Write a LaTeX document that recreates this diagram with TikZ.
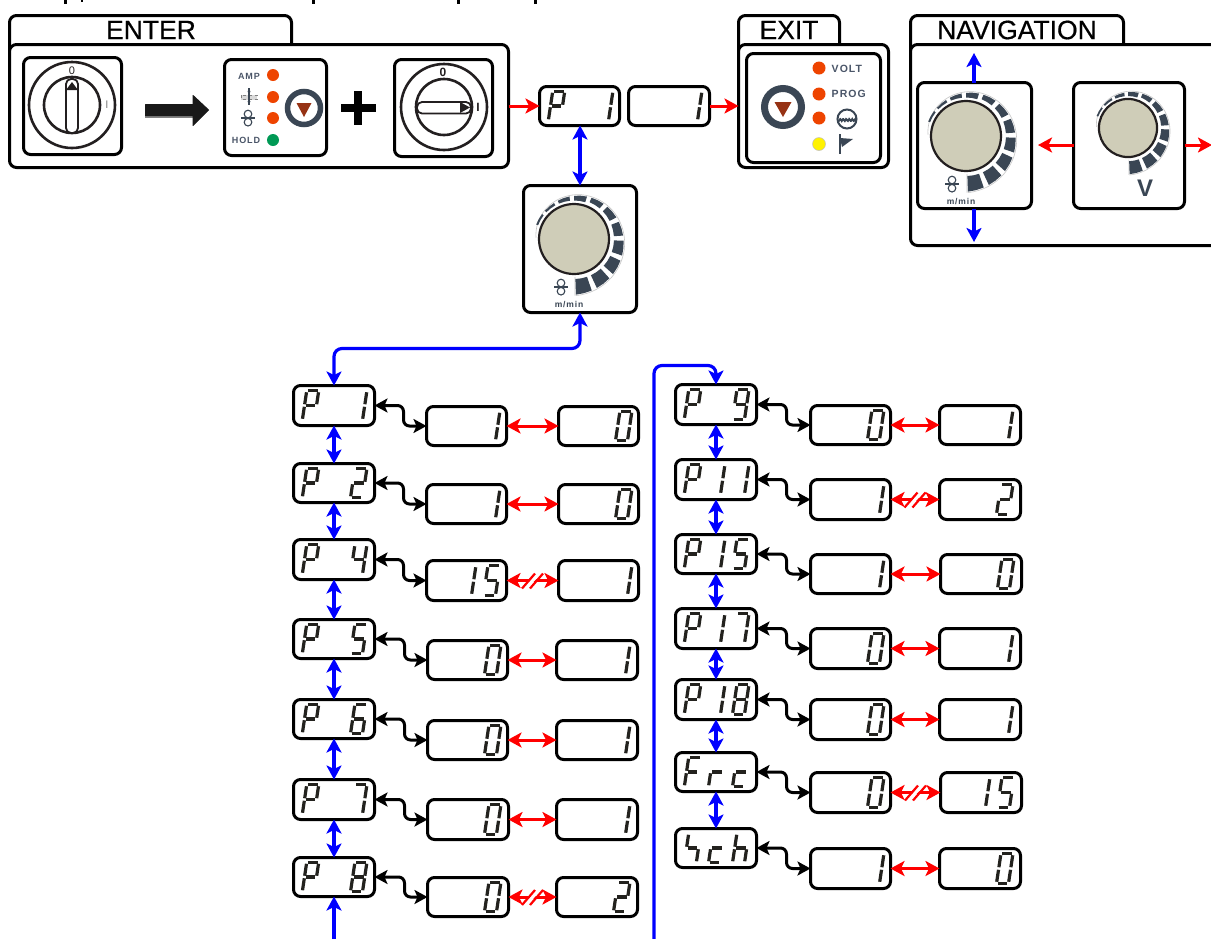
\documentclass[tikz,border=0pt]{standalone}
\usepackage{fontspec}
\setmainfont{Liberation Sans}
\newfontfamily\lblfont[LetterSpace=10]{Liberation Sans}
\newfontfamily\tabfont[RawFeature={embolden=0.6}]{Liberation Sans}
\usetikzlibrary{arrows.meta,calc}
\definecolor{slate}{HTML}{3A4654}
\definecolor{labelc}{HTML}{4A5568}
\definecolor{ledred}{HTML}{EE4400}
\definecolor{ledgreen}{HTML}{009955}
\definecolor{triang}{HTML}{963214}
\definecolor{knobc}{HTML}{CFCDB8}
\definecolor{inkc}{HTML}{231F20}
\definecolor{segc}{HTML}{23221E}
\tikzset{
  box/.style={draw=black,line width=3pt,fill=white,rounded corners=7pt,inner sep=0pt,outer sep=0pt,rectangle},
  segline/.style={draw=segc,line width=3.2pt,line cap=butt},
  blu/.style={draw=blue,line width=3.2pt,<->,>={Stealth[length=14pt,width=15pt,inset=3.5pt]}},
  bluone/.style={draw=blue,line width=3.2pt,->,>={Stealth[length=14pt,width=15pt,inset=3.5pt]}},
  rdd/.style={draw=red,line width=3pt,<->,>={Stealth[length=14pt,width=15pt,inset=3.5pt]}},
  rdone/.style={draw=red,line width=3pt,->,>={Stealth[length=14pt,width=15pt,inset=3.5pt]}},
  blk/.style={draw=black,line width=3pt,<->,rounded corners=6pt,>={Stealth[length=13pt,width=14pt,inset=3pt]}},
  led/.style={circle,inner sep=0pt,outer sep=0pt,minimum size=#1},
  swline/.style={draw=inkc,line width=2.6pt},
  symb/.style={draw=slate,line width=1.1pt},
  tabtext/.style={font=\tabfont\fontsize{26.5}{26.5}\selectfont,inner sep=0pt,text=black},
  lab/.style={font=\lblfont\bfseries\fontsize{9}{9}\selectfont,text=labelc,inner sep=0pt},
  labb/.style={font=\lblfont\bfseries\fontsize{10.5}{10.5}\selectfont,text=labelc,inner sep=0pt,anchor=west},
  mmin/.style={font=\lblfont\bfseries\fontsize{8.5}{8.5}\selectfont,text=slate,inner sep=0pt},
}
% seven segment glyphs
\def\sega{\draw[segline] (1.2,-29.5)--(10.8,-29.5);}
\def\segb{\draw[segline] (12,-28)--(12,-16);}
\def\segc{\draw[segline] (12,-13.5)--(12,-1.5);}
\def\segd{\draw[segline] (1.2,0)--(10.8,0);}
\def\sege{\draw[segline] (0,-13.5)--(0,-1.5);}
\def\segf{\draw[segline] (0,-28)--(0,-16);}
\def\segg{\draw[segline] (1.2,-14.75)--(10.8,-14.75);}
\def\segz{}
\def\glx{z}
\def\glP{a,b,e,f,g}
\def\glF{a,e,f,g}
\def\glr{e,g}
\def\glc{d,e,g}
\def\glh{c,e,f,g}
\def\glu{c,f,g}
\def\glzero{a,b,c,d,e,f}
\def\glone{b,c}
\def\gltwo{a,b,d,e,g}
\def\glfour{b,c,f,g}
\def\glfive{a,c,d,f,g}
\def\glsix{a,c,d,e,f,g}
\def\glseven{a,b,c}
\def\gleight{a,b,c,d,e,f,g}
\def\glnine{a,b,c,d,f,g}
\newcommand{\dig}[3]{% x, bottom y, glyph
  \begin{scope}[shift={(#1,#2)},xslant=0.15]
    \expandafter\let\expandafter\gllist\csname gl#3\endcsname
    \foreach \s in \gllist {\csname seg\s\endcsname}
  \end{scope}}
\newcommand{\bx}[6][box]{% style, name, x1,y1,x2,y2
  \pgfmathsetmacro{\bcx}{(#3+#5)/2}\pgfmathsetmacro{\bcy}{(#4+#6)/2}
  \pgfmathsetmacro{\bw}{#5-#3-3}\pgfmathsetmacro{\bh}{#6-#4-3}
  \node[#1,minimum width=\bw pt,minimum height=\bh pt] (#2) at (\bcx,\bcy) {};}
\newcommand{\disp}[8]{% name x1 y1 x2 y2 g1 g2 g3
  \bx{#1}{#2}{#3}{#4}{#5}
  \pgfmathsetmacro{\dby}{(#3+#5)/2+14.75}
  \pgfmathsetmacro{\dxa}{#2+10.3}\pgfmathsetmacro{\dxb}{#2+34.5}\pgfmathsetmacro{\dxc}{#2+58.5}
  \dig{\dxa}{\dby}{#6}\dig{\dxb}{\dby}{#7}\dig{\dxc}{\dby}{#8}}
\newcommand{\dial}[3]{% cx cy scale
  \pgfmathsetmacro{\kr}{35*#3}
  \draw[gray!45,line width=.6pt] ({#1+#3*1},{#2+#3*56.5}) -- ({#1+#3*1},{#2+#3*38})
    plot[domain=88:-178,samples=50] ({#1+#3*(50.5+.07*\x)*cos(\x)},{#2+#3*(50.5+.07*\x)*sin(\x)});
  \foreach \i in {0,...,10}{
    \pgfmathsetmacro{\aone}{88-\i*23}
    \pgfmathsetmacro{\atwo}{\aone-17}
    \pgfmathsetmacro{\amid}{\aone-8.5}
    \pgfmathsetmacro{\rin}{\aone>-60 ? 40 : 38.5}
    \pgfmathsetmacro{\ra}{max(49.5+.07*\aone,40.5)}
    \pgfmathsetmacro{\rb}{max(49.5+.07*\atwo,40.5)}
    \pgfmathsetmacro{\rm}{(\ra+\rb)/2}
    \fill[slate] ({#1+#3*\rin*cos(\aone)},{#2+#3*\rin*sin(\aone)})
      -- ({#1+#3*\ra*cos(\aone)},{#2+#3*\ra*sin(\aone)})
      -- ({#1+#3*\rm*cos(\amid)},{#2+#3*\rm*sin(\amid)})
      -- ({#1+#3*\rb*cos(\atwo)},{#2+#3*\rb*sin(\atwo)})
      -- ({#1+#3*\rin*cos(\atwo)},{#2+#3*\rin*sin(\atwo)})
      -- ({#1+#3*\rin*cos(\amid)},{#2+#3*\rin*sin(\amid)}) -- cycle;
  }
  \draw[draw=inkc,fill=knobc,line width=2.2pt] (#1,#2) circle[radius=\kr pt];}
\newcommand{\spool}[2]{% cx cy
  \draw[symb] (#1,{#2-4}) circle[radius=3.8pt];
  \draw[symb] (#1,{#2+4.2}) circle[radius=3.8pt];
  \draw[symb] ({#1-7},#2) -- ({#1+7},#2);}
\newcommand{\brk}[2]{% broken red connector
  \draw[rdd] (#1.east) -- (#2.west);
  \coordinate (mid) at ($(#1.east)!0.5!(#2.west)$);
  \draw[white,line width=3.5pt] ($(mid)+(-4.5,5)$) -- ($(mid)+(4.5,-5)$);
  \draw[red,line width=2.2pt] ($(mid)+(-10.5,8)$) -- ($(mid)+(2.5,-7)$);
  \draw[red,line width=2.2pt] ($(mid)+(-2.5,8)$) -- ($(mid)+(10.5,-7)$);}
\begin{document}
\begin{tikzpicture}[x=1pt,y=-1pt]
\useasboundingbox (0,0) rectangle (1211,938);
\clip (0,0) rectangle (1211,938);
% clipped line of text at the very top
\fill[black] (63.5,0) rectangle (66.5,4);
\fill[black] (80.5,0) rectangle (82.5,1.5);
\fill[black] (311.5,0) rectangle (314.5,4);
\fill[black] (456.5,0) rectangle (459.5,4);
\fill[black] (533.5,0) rectangle (536.5,4);

% ENTER panel
\bx{entertab}{8}{14}{293}{60}
\bx{enter}{8}{43}{510}{169}
\node[tabtext] (entertxt) at (151,30) {ENTER};
\bx{sw1}{22}{56}{123}{156}
\draw[swline] (72,105) circle[radius=43pt];
\draw[swline] (72,105) circle[radius=28pt];
\draw[draw=inkc,fill=white,line width=1.8pt,rounded corners=5pt] (66,79) rectangle (78,133);
\fill[inkc] (72,82) -- (78,90) -- (66,90) -- cycle;
\node[inner sep=0pt,text=inkc,font=\fontsize{11}{11}\selectfont] (sw1o) at (72,71) {0};
\node[inner sep=0pt,text=gray,font=\fontsize{11}{11}\selectfont] (sw1i) at (107,105) {I};
\fill[gray] (145,105) rectangle (195,118);
\fill[black!90,draw=black!90,line width=1pt,line join=round] (145.5,104.5) -- (193,104.5) -- (193,95.5) -- (208.5,110) -- (193,125.5) -- (193,115.5) -- (145.5,115.5) -- cycle;
\bx{panelb}{223}{58}{328}{157}
\node[lab] (amp) at (249,76) {AMP};
\node[lab] (hold) at (246,140) {HOLD};
\node[led=12pt,fill=ledred] (led1) at (273,75) {};
\node[led=12pt,fill=ledred] (led2) at (273,97) {};
\node[led=12pt,fill=ledred] (led3) at (273,118) {};
\node[led=12pt,fill=ledgreen] (led4) at (273,140) {};
\draw[draw=gray,fill=gray!30,line width=.8pt,dashed] (241,95) rectangle (257,99.5);
\draw[symb] (249,88) -- (249,105);
\fill[slate] (249,88) -- (250.5,92) -- (247.5,92) -- cycle;
\fill[slate] (249,105) -- (250.5,101) -- (247.5,101) -- cycle;
\spool{248}{118}
\node[circle,draw=slate,line width=5.5pt,fill=white,minimum size=33pt,inner sep=0pt,outer sep=0pt] (btn1) at (304,108) {};
\fill[triang] (296.5,103) -- (311.5,103) -- (304,117) -- cycle;
\fill[black] (341,104) rectangle (375.5,112);
\fill[black] (354,90.5) rectangle (362,125);
\bx{sw2}{393}{58}{494}{158}
\draw[swline] (444,107) circle[radius=43pt];
\draw[swline] (444,107) circle[radius=28pt];
\draw[draw=inkc,fill=white,line width=1.8pt,rounded corners=5pt] (417,102) rectangle (471,113.5);
\fill[inkc] (470,107.5) -- (460,102) -- (460,113) -- cycle;
\node[inner sep=0pt,text=inkc,font=\bfseries\fontsize{12}{12}\selectfont] (sw2o) at (443,72) {0};
\node[inner sep=0pt,text=inkc,font=\bfseries\fontsize{12}{12}\selectfont] (sw2i) at (478,107) {I};

% top displays
\disp{tp}{538}{85}{621}{127}{P}{x}{one}
\disp{tv}{627}{85}{711}{127}{x}{x}{one}
\draw[rdone] (enter.east |- tp.west) -- (tp.west);

% EXIT panel
\bx{exittab}{737}{14}{841}{60}
\bx{exit}{737}{43}{890}{169}
\node[tabtext] (exittxt) at (789,30) {EXIT};
\bx{exitin}{745}{52}{882}{164}
\node[circle,draw=slate,line width=7pt,fill=white,minimum size=37pt,inner sep=0pt,outer sep=0pt] (btn2) at (783,107) {};
\fill[triang] (774.5,102) -- (791.5,102) -- (783,117) -- cycle;
\node[led=13pt,fill=ledred] (eled1) at (819,68) {};
\node[led=13pt,fill=ledred] (eled2) at (819,94) {};
\node[led=13pt,fill=ledred] (eled3) at (819,118) {};
\node[led=13pt,fill=yellow,draw=gray!50,line width=.5pt] (eled4) at (819,144) {};
\node[labb] (volt) at (831.5,69) {VOLT};
\node[labb] (prog) at (831.5,94) {PROG};
\draw[draw=slate,line width=2pt] (847,119) circle[radius=9.5pt];
\draw[draw=slate,line width=1.6pt] plot[domain=-9:9,samples=30] ({847+\x},{120+1.3*sin(\x*120)});
\draw[draw=slate,line width=2.6pt] (840,134) -- (840,154);
\fill[slate] (840,138) -- (853,139) -- (842,147) -- cycle;
\draw[rdone] (tv.east) -- (exit.west |- tv.east);

% centre dial
\bx{dialm}{522}{184}{638}{314}
\dial{574}{239}{1}
\spool{561}{287}
\node[mmin] (mminm) at (569,304) {m/min};
\draw[blu] (tp.south -| dialm.north) -- (dialm.north);

% NAVIGATION panel
\bx{navtab}{909}{14}{1125}{60}
\bx{nav}{909}{43}{1260}{247}
\node[tabtext] (navtxt) at (1017,30) {NAVIGATION};
\bx{naval}{916}{81}{1033}{210}
\dial{966}{136}{1}
\spool{952}{184}
\node[mmin] (mminn) at (961,201) {m/min};
\bx{navv}{1072}{81}{1186}{210}
\dial{1128}{128}{0.83}
\node[inner sep=0pt,text=slate,font=\bfseries\fontsize{24}{24}\selectfont] (vlab) at (1145,188) {V};
\coordinate (nup) at (974,53);
\coordinate (ndn) at (974,242);
\draw[bluone] (naval.north -| nup) -- (nup);
\draw[bluone] (naval.south -| ndn) -- (ndn);
\coordinate (nl) at (1038,145);
\coordinate (nr) at (1212,145);
\draw[rdone] (navv.west |- nl) -- (nl);
\draw[rdone] (navv.east |- nr) -- (nr);

% left column
\disp{l1}{292}{384}{376}{427}{P}{x}{one}
\disp{l2}{292}{462}{376}{504}{P}{x}{two}
\disp{l3}{292}{538}{376}{581}{P}{x}{four}
\disp{l4}{292}{618}{376}{660}{P}{x}{five}
\disp{l5}{292}{698}{376}{740}{P}{x}{six}
\disp{l6}{292}{778}{376}{821}{P}{x}{seven}
\disp{l7}{292}{856}{376}{898}{P}{x}{eight}
\disp{la1}{425}{405}{508}{447}{x}{x}{one}
\disp{la2}{425}{483}{508}{525}{x}{x}{one}
\disp{la3}{425}{559}{508}{602}{x}{one}{five}
\disp{la4}{426}{639}{509}{681}{x}{x}{zero}
\disp{la5}{426}{719}{509}{761}{x}{x}{zero}
\disp{la6}{426}{798}{510}{841}{x}{x}{zero}
\disp{la7}{426}{876}{510}{918}{x}{x}{zero}
\disp{lb1}{557}{405}{640}{447}{x}{x}{zero}
\disp{lb2}{557}{483}{640}{525}{x}{x}{zero}
\disp{lb3}{557}{559}{640}{602}{x}{x}{one}
\disp{lb4}{555}{639}{639}{681}{x}{x}{one}
\disp{lb5}{555}{719}{639}{761}{x}{x}{one}
\disp{lb6}{555}{798}{639}{841}{x}{x}{one}
\disp{lb7}{555}{876}{639}{918}{x}{x}{two}
\draw[blu,rounded corners=8pt] (dialm.south) -- ++(0,36) -| (l1.north);
\foreach \a/\b in {l1/l2,l2/l3,l3/l4,l4/l5,l5/l6,l6/l7} \draw[blu] (\a.south) -- (\b.north);
\coordinate (lbot) at (334,945);
\draw[bluone] (lbot) -- (l7.south);
\foreach \i in {1,...,7} \draw[blk] (l\i.east) -| ($(la\i.west)+(-23,0)$) -- (la\i.west);
\foreach \i in {1,2,4,5,6} \draw[rdd] (la\i.east) -- (lb\i.west);
\brk{la3}{lb3}
\brk{la7}{lb7}

% right column
\disp{r1}{674}{383}{758}{426}{P}{x}{nine}
\disp{r2}{674}{458}{758}{501}{P}{one}{one}
\disp{r3}{674}{533}{758}{575}{P}{one}{five}
\disp{r4}{674}{607}{758}{650}{P}{one}{seven}
\disp{r5}{674}{678}{758}{721}{P}{one}{eight}
\disp{r6}{674}{751}{758}{793}{F}{r}{c}
\disp{r7}{674}{827}{758}{869}{u}{c}{h}
\disp{ra1}{809}{404}{892}{446}{x}{x}{zero}
\disp{ra2}{809}{478}{892}{521}{x}{x}{one}
\disp{ra3}{809}{553}{892}{595}{x}{x}{one}
\disp{ra4}{809}{627}{892}{670}{x}{x}{zero}
\disp{ra5}{809}{698}{892}{741}{x}{x}{zero}
\disp{ra6}{809}{771}{892}{814}{x}{x}{zero}
\disp{ra7}{809}{847}{892}{890}{x}{x}{one}
\disp{rb1}{938}{404}{1022}{446}{x}{x}{one}
\disp{rb2}{938}{478}{1022}{521}{x}{x}{two}
\disp{rb3}{939}{553}{1023}{595}{x}{x}{zero}
\disp{rb4}{938}{627}{1022}{670}{x}{x}{one}
\disp{rb5}{938}{698}{1022}{741}{x}{x}{one}
\disp{rb6}{939}{771}{1023}{814}{x}{one}{five}
\disp{rb7}{938}{847}{1022}{890}{x}{x}{zero}
\coordinate (rbot) at (654,945);
\draw[bluone,rounded corners=8pt] (rbot) |- ($(r1.north)+(0,-19)$) -- (r1.north);
\foreach \a/\b in {r1/r2,r2/r3,r3/r4,r4/r5,r5/r6,r6/r7} \draw[blu] (\a.south) -- (\b.north);
\foreach \i in {1,...,7} \draw[blk] (r\i.east) -| ($(ra\i.west)+(-24,0)$) -- (ra\i.west);
\foreach \i in {1,3,4,5,7} \draw[rdd] (ra\i.east) -- (rb\i.west);
\brk{ra2}{rb2}
\brk{ra6}{rb6}
\end{tikzpicture}
\end{document}
